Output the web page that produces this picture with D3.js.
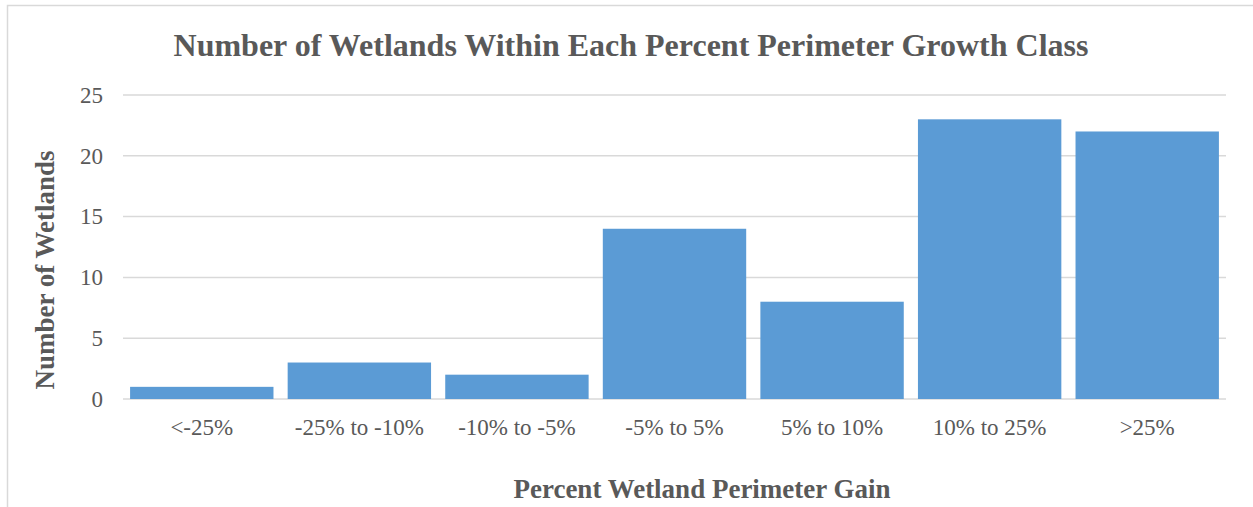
<!DOCTYPE html>
<html>
<head>
<meta charset="utf-8">
<script src="https://d3js.org/d3.v7.min.js"></script>
<style>
  body { margin: 0; background: #fff; }
  text { font-family: "Liberation Serif", "Times New Roman", serif; fill: #595959; }
</style>
</head>
<body>
<svg width="1253" height="507"></svg>
<script>
var categories = ["<-25%", "-25% to -10%", "-10% to -5%", "-5% to 5%", "5% to 10%", "10% to 25%", ">25%"];
var counts = [1, 3, 2, 14, 8, 23, 22];
var yTicks = [0, 5, 10, 15, 20, 25];

var svg = d3.select("svg"),
    margin = {top: 95, right: 27, bottom: 108, left: 123},
    width = +svg.attr("width") - margin.left - margin.right,
    height = +svg.attr("height") - margin.top - margin.bottom;

// chart border (runs off the right/bottom edge like the source)
svg.append("rect")
    .attr("x", 7.5).attr("y", 5.5)
    .attr("width", 1260).attr("height", 520)
    .attr("fill", "none")
    .attr("stroke", "#d9d9d9")
    .attr("stroke-width", 1.5);

var x = d3.scaleBand().domain(categories).range([0, width]).paddingInner(0.09).paddingOuter(0.045),
    y = d3.scaleLinear().domain([0, 25]).range([height, 0]);

var g = svg.append("g")
    .attr("transform", "translate(" + margin.left + "," + margin.top + ")");

// gridlines
g.selectAll(".grid")
  .data(yTicks)
  .enter().append("line")
    .attr("x1", 0).attr("x2", width)
    .attr("y1", function(d) { return y(d); })
    .attr("y2", function(d) { return y(d); })
    .attr("stroke", "#d9d9d9")
    .attr("stroke-width", 1.5);

g.selectAll(".bar")
  .data(counts)
  .enter().append("rect")
    .attr("fill", "#5b9bd5")
    .attr("x", function(d, i) { return x(categories[i]); })
    .attr("y", function(d) { return y(d); })
    .attr("width", x.bandwidth())
    .attr("height", function(d) { return height - y(d); });

// y tick labels
var yAxis = g.append("g")
    .call(d3.axisLeft(y).tickValues(yTicks).tickSize(0).tickPadding(20));
yAxis.select(".domain").remove();
yAxis.selectAll("text")
    .attr("font-size", 23)
    .attr("font-family", "Liberation Serif")
    .attr("fill", "#595959");

// x tick labels
var xAxis = g.append("g")
    .attr("transform", "translate(0," + height + ")")
    .call(d3.axisBottom(x).tickSize(0).tickPadding(20));
xAxis.select(".domain").remove();
xAxis.selectAll("text")
    .attr("font-size", 23)
    .attr("font-family", "Liberation Serif")
    .attr("fill", "#595959");

svg.append("text")
    .attr("x", 631).attr("y", 56)
    .attr("text-anchor", "middle")
    .attr("font-size", 32)
    .attr("font-weight", "bold")
    .text("Number of Wetlands Within Each Percent Perimeter Growth Class");

svg.append("text")
    .attr("x", 702).attr("y", 498)
    .attr("text-anchor", "middle")
    .attr("font-size", 27)
    .attr("font-weight", "bold")
    .text("Percent Wetland Perimeter Gain");

svg.append("text")
    .attr("transform", "translate(54,270) rotate(-90)")
    .attr("text-anchor", "middle")
    .attr("font-size", 27)
    .attr("font-weight", "bold")
    .text("Number of Wetlands");
</script>
</body>
</html>
